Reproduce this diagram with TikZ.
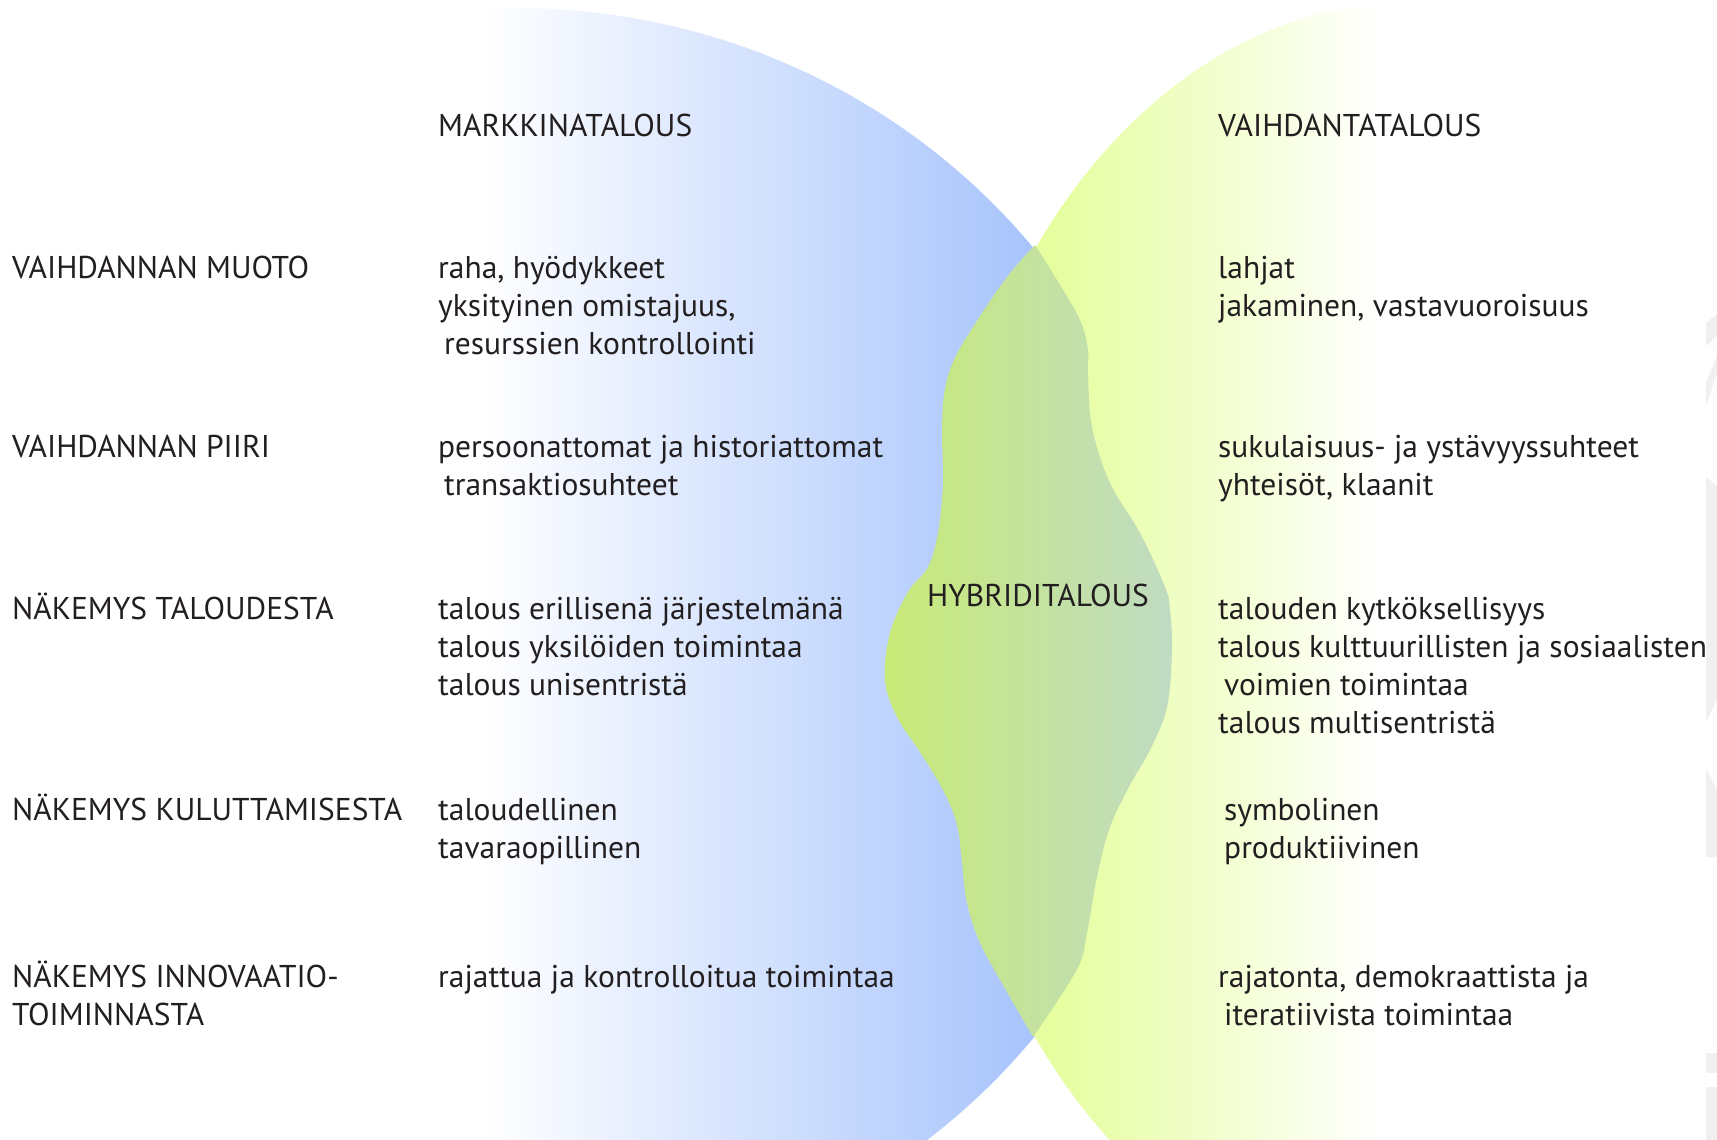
\documentclass[tikz,border=0pt]{standalone}
\usepackage{fontspec}
\setmainfont{PT Sans}
\definecolor{txtc}{RGB}{35,31,32}
\definecolor{bluec}{RGB}{168,196,252}
\definecolor{limec}{RGB}{230,254,160}
\definecolor{hybL}{RGB}{200,234,118}
\definecolor{hybR}{RGB}{192,219,195}
\definecolor{greyc}{RGB}{240,240,240}
\tikzset{
  txt/.style={anchor=base west, align=left, inner sep=0pt, text=txtc,
    font=\fontsize{31.5}{38.3}\selectfont},
}
\begin{document}
\begin{tikzpicture}[x=1pt,y=-1pt]
\useasboundingbox (0,0) rectangle (1717,1140);
\fill[white] (0,0) rectangle (1717,1140);
\begin{scope}
\clip (0,0) rectangle (1717,1140);
% market economy (blue)
\begin{scope}
\clip (515,643) ellipse [x radius=662, y radius=635];
\shade[left color=white, right color=bluec] (482,0) rectangle (1030,1140);
\fill[bluec] (1029,0) rectangle (1200,1140);
\end{scope}
% exchange economy (lime)
\begin{scope}
\clip (1033,0) rectangle (1717,1140);
\clip (1407,643) ellipse [x radius=472, y radius=640];
\fill[limec] (900,0) rectangle (1061,1140);
\shade[left color=limec, right color=white] (1060,0) rectangle (1380,1140);
\end{scope}
% hybrid blob
\shade[left color=hybL, right color=hybR]
  plot[smooth, tension=0.6] coordinates {(1035,245) (1007,277) (973,327) (953,362) (944,395) (942,435) (943,483) (938,533) (928,567) (908,592) (890,633) (885,680) (897,717) (920,752) (943,790) (957,825) (962,863) (967,903) (980,943) (1003,985) (1033,1037)}
  -- plot[smooth, tension=0.6] coordinates {(1033,1037) (1060,997) (1080,963) (1087,933) (1097,877) (1110,827) (1130,785) (1150,750) (1167,707) (1172,650) (1170,610) (1165,587) (1140,533) (1110,483) (1092,427) (1088,373) (1088,350) (1080,320) (1057,280) (1035,245)}
  -- cycle;
% faint marks at right edge
\fill[greyc] (1706,323) -- (1717,314) -- (1717,336) -- (1706,346) -- cycle;
\fill[greyc] (1706,382) -- (1717,356) -- (1717,372) -- (1706,407) -- cycle;
\fill[greyc] (1706,477) -- (1717,486) -- (1717,700) -- (1706,722) -- cycle;
\fill[greyc] (1706,768) -- (1717,790) -- (1717,857) -- (1706,857) -- cycle;
\fill[greyc] (1706,1053) rectangle (1717,1073);
\fill[greyc] (1706,1087) rectangle (1717,1140);
\end{scope}
% headers
\node[txt] (hdrM) at (438,136) {MARKKINATALOUS};
\node[txt] (hdrV) at (1218,136) {VAIHDANTATALOUS};
\node[txt] (hyb) at (927,606) {HYBRIDITALOUS};
% row labels (anchor = baseline of last line)
\node[txt] (l1) at (12,278) {VAIHDANNAN MUOTO};
\node[txt] (l2) at (12,457) {VAIHDANNAN PIIRI};
\node[txt] (l3) at (12,619) {NÄKEMYS TALOUDESTA};
\node[txt] (l4) at (12,820) {NÄKEMYS KULUTTAMISESTA};
\node[txt] (l5) at (12,1025.3) {NÄKEMYS INNOVAATIO-\\TOIMINNASTA};
% market column
\node[txt] (m1) at (438,354.6) {raha, hyödykkeet\\yksityinen omistajuus,\\\hspace*{6pt}resurssien kontrollointi};
\node[txt] (m2) at (438,495.3) {persoonattomat ja historiattomat\\\hspace*{6pt}transaktiosuhteet};
\node[txt] (m3) at (438,695.6) {talous erillisenä järjestelmänä\\talous yksilöiden toimintaa\\talous unisentristä};
\node[txt] (m4) at (438,858.3) {taloudellinen\\tavaraopillinen};
\node[txt] (m5) at (438,987) {rajattua ja kontrolloitua toimintaa};
% exchange column
\node[txt] (r1) at (1218,316.3) {lahjat\\jakaminen, vastavuoroisuus};
\node[txt] (r2) at (1218,495.3) {sukulaisuus- ja ystävyyssuhteet\\yhteisöt, klaanit};
\node[txt] (r3) at (1218,733.9) {talouden kytköksellisyys\\talous kulttuurillisten ja sosiaalisten\\\hspace*{6pt}voimien toimintaa\\talous multisentristä};
\node[txt] (r4) at (1218,858.3) {\hspace*{6pt}symbolinen\\\hspace*{6pt}produktiivinen};
\node[txt] (r5) at (1218,1025.3) {rajatonta, demokraattista ja\\\hspace*{6pt}iteratiivista toimintaa};
\end{tikzpicture}
\end{document}
